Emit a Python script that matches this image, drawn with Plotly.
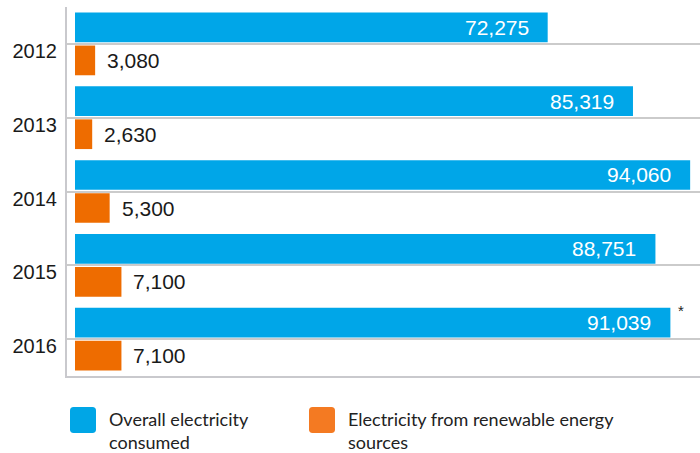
import plotly.graph_objects as go

# Electricity consumption per year
years = ["2012", "2013", "2014", "2015", "2016"]
overall = [72275, 85319, 94060, 88751, 91039]
renewable = [3080, 2630, 5300, 7100, 7100]
overall_name = ["Overall electricity", "consumed"]
renewable_name = ["Electricity from renewable energy", "sources"]
footnote_year = "2016"

BLUE = "#00a6e8"
ORANGE = "#ee6c00"
BLUE_KEY = "#00a6e6"
ORANGE_KEY = "#f47a22"
GRID = "#cbcbcb"
AXIS = "#c9c9cd"

W, H = 700, 453
L, R, T, B = 67, 0, 7, 77
PW, PH = W - L - R, H - T - B

NUM_FONT = dict(family="Liberation Sans, Arial, sans-serif", size=21)
KEY_FONT = dict(family="Lato, sans-serif", size=18, color="#222222")


def px_x(px):
    return (px - L) / PW


def px_y(py):
    return (H - B - py) / PH


fig = go.Figure()
fig.add_trace(go.Bar(y=years, x=overall, orientation="h", marker=dict(color=BLUE, line=dict(width=0)),
                     name=" ".join(overall_name), hoverinfo="x+y"))
fig.add_trace(go.Bar(y=years, x=renewable, orientation="h", marker=dict(color=ORANGE, line=dict(width=0)),
                     name=" ".join(renewable_name), hoverinfo="x+y"))

BARGAP, GROUPGAP = 0.105, 0.1
slot_px = PH / len(years) * (1 - BARGAP) / 2
annotations = []
# category axes take the serial index of each category for annotation positions
for i, v in enumerate(overall):
    annotations.append(dict(x=v, y=i, xref="x", yref="y", text=f"{v:,}", showarrow=False,
                            xanchor="right", yanchor="middle", xshift=-17, yshift=slot_px / 2,
                            font=dict(NUM_FONT, color="white")))
for i, v in enumerate(renewable):
    annotations.append(dict(x=v, y=i, xref="x", yref="y", text=f"{v:,}", showarrow=False,
                            xanchor="left", yanchor="middle", xshift=10, yshift=-slot_px / 2,
                            font=dict(NUM_FONT, color="#1a1a1a")))
# footnote marker on the last overall bar
fi = years.index(footnote_year)
annotations.append(dict(x=overall[fi], y=fi, xref="x", yref="y", text="*", showarrow=False,
                        xanchor="left", yanchor="middle", xshift=6, yshift=slot_px / 2 + 12,
                        font=dict(family="Liberation Sans, Arial, sans-serif", size=15, color="#222222")))

# custom key below the plot
shapes = []
keys = [(70, 107, BLUE_KEY, overall_name), (309, 346, ORANGE_KEY, renewable_name)]
for sx, tx, col, lines in keys:
    x0, x1 = sx, sx + 26
    y0, y1 = 407, 433
    r = 3.5
    pts = [("M", [(x0 + r, y0)]), ("L", [(x1 - r, y0)]), ("Q", [(x1, y0), (x1, y0 + r)]),
           ("L", [(x1, y1 - r)]), ("Q", [(x1, y1), (x1 - r, y1)]), ("L", [(x0 + r, y1)]),
           ("Q", [(x0, y1), (x0, y1 - r)]), ("L", [(x0, y0 + r)]), ("Q", [(x0, y0), (x0 + r, y0)])]
    path = " ".join(cmd + " " + " ".join(f"{px_x(a):.5f},{px_y(b):.5f}" for a, b in p) for cmd, p in pts) + " Z"
    shapes.append(dict(type="path", xref="paper", yref="paper", path=path,
                       fillcolor=col, line=dict(width=0), layer="above"))
    for j, line in enumerate(lines):
        annotations.append(dict(x=px_x(tx), y=px_y(419 + 23 * j), xref="paper", yref="paper",
                                text=line, showarrow=False, xanchor="left", yanchor="middle",
                                font=KEY_FONT))

fig.update_layout(
    width=W, height=H,
    margin=dict(l=L, r=R, t=T, b=B, pad=0),
    paper_bgcolor="white", plot_bgcolor="white",
    barmode="group", bargap=BARGAP, bargroupgap=GROUPGAP,
    showlegend=False,
    annotations=annotations,
    shapes=shapes,
    xaxis=dict(range=[-1223, 95566], autorange=False, showticklabels=False, showgrid=False, zeroline=False,
               showline=True, linecolor=AXIS, linewidth=2, ticks="", fixedrange=True),
    yaxis=dict(type="category", categoryorder="array", categoryarray=years,
               range=[len(years) - 0.5, -0.5], autorange=False,
               showgrid=True, gridcolor=GRID, gridwidth=1.5,
               zeroline=False, showline=True, linecolor=AXIS, linewidth=2, ticks="",
               ticklabelstandoff=4, ticklabelshift=-7,
               tickfont=dict(family="Liberation Sans, Arial, sans-serif", size=20, color="#1a1a1a")),
)

fig.write_html("out.html")
